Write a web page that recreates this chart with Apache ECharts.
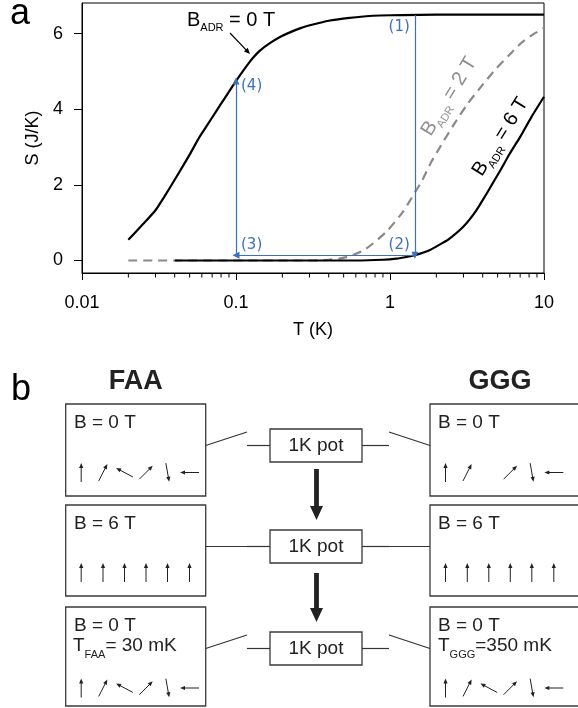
<!DOCTYPE html>
<html><head><meta charset="utf-8">
<script src="https://cdn.jsdelivr.net/npm/echarts@6/dist/echarts.min.js"></script>
<style>html,body{margin:0;padding:0;background:#fff}#c{width:578px;height:708px}</style>
</head><body><div id="c"></div>
<script>
// ---------------- data ----------------
const yTickValues = [0, 2, 4, 6];
const minorTickValues = [0.02,0.03,0.04,0.05,0.06,0.07,0.08,0.09,0.2,0.3,0.4,0.5,0.6,0.7,0.8,0.9,2,3,4,5,6,7,8,9];
// entropy curves: [T (K), S (J/K)]
const curveB0 = [[0.02,0.55],[0.025,0.97],[0.03,1.33],[0.035,1.75],[0.041,2.21],[0.05,2.8],[0.058,3.27],[0.066,3.62],[0.075,3.97],[0.085,4.31],[0.096,4.64],[0.11,4.99],[0.12,5.2],[0.129,5.36],[0.143,5.55],[0.165,5.74],[0.193,5.91],[0.22,6.02],[0.26,6.14],[0.316,6.24],[0.4,6.34],[0.526,6.41],[0.7,6.46],[0.86,6.48],[1.2,6.49],[2,6.5],[5,6.5],[10,6.5]];
const curveB2 = [[0.02,0],[0.3,0],[0.4,0.02],[0.47,0.05],[0.55,0.12],[0.668,0.26],[0.776,0.45],[0.957,0.78],[1.21,1.28],[1.45,1.8],[1.6,2.08],[1.85,2.6],[2.15,3.05],[2.6,3.6],[3.2,4.15],[4.0,4.65],[4.9,5.08],[6.0,5.45],[7.1,5.75],[8.5,5.98],[10,6.15]];
const curveB6 = [[0.04,0],[0.6,0],[0.9,0.02],[1.1,0.05],[1.3,0.1],[1.45,0.14],[1.82,0.28],[2.1,0.42],[2.4,0.56],[3.0,0.9],[3.6,1.3],[4.2,1.74],[4.67,2.06],[5.2,2.38],[6.0,2.83],[7.0,3.27],[8.3,3.8],[10,4.33]];
// ADR cycle legs [from, to] in [T, S]
const cycleLegs = [[[1.45,6.49],[1.45,0.14]], [[1.45,0.14],[0.1,0.14]], [[0.1,0.14],[0.1,4.75]]];
const cycleLabels = ['(1)','(2)','(3)','(4)'];
// diagram
const stageFields = ['B = 0 T', 'B = 6 T', 'B = 0 T'];
const switchClosed = [false, true, false];
const finalTemps = {FAA: '= 30 mK', GGG: '=350 mK'};
const faaSpins = [[90, 63, 152, 45, -80, 180], [90,90,90,90,90,90], [90, 63, 152, 45, -80, 180]];
const gggSpins = [[90, 63, null, 45, -80, 180], [90,90,90,90,90,90], [90, 63, 152, 45, -80, 180]];

// ---------------- chart ----------------
const FONT = '"Liberation Sans", Arial, sans-serif';
const BLUE = '#3b70bf';
const yMin = -0.33, yMax = 6.81;
const chart = echarts.init(document.getElementById('c'), null, {renderer:'canvas', width:578, height:708});

const option = {
  animation: false,
  grid: {left:82, top:3, width:462, height:270, show:true, borderColor:'#000', borderWidth:1, backgroundColor:'transparent'},
  xAxis: {
    type:'log', logBase:10, min:0.01, max:10,
    name:'T (K)', nameLocation:'middle', nameGap:48,
    nameTextStyle:{fontFamily:FONT, fontSize:18, color:'#000'},
    axisLine:{show:true, onZero:false, lineStyle:{color:'#000', width:1}},
    axisTick:{show:true, inside:false, length:7, lineStyle:{color:'#000', width:1}},
    axisLabel:{fontFamily:FONT, fontSize:18, color:'#000', margin:21, formatter:v=>String(+(+v).toPrecision(2))},
    splitLine:{show:false}, minorTick:{show:false}
  },
  yAxis: {
    type:'value', min:yMin, max:yMax,
    name:'S (J/K)', nameLocation:'middle', nameGap:38, nameRotate:90,
    nameTextStyle:{fontFamily:FONT, fontSize:18, color:'#000'},
    axisLine:{show:true, lineStyle:{color:'#000', width:1}},
    axisTick:{show:true, inside:false, length:8, customValues:yTickValues, lineStyle:{color:'#000', width:1}},
    axisLabel:{fontFamily:FONT, fontSize:18, color:'#000', margin:19, customValues:yTickValues},
    splitLine:{show:false}
  },
  series: [
    {type:'custom', coordinateSystem:'cartesian2d', clip:false, silent:true, z:5,
     data: minorTickValues.map(v=>[v, yMin]), encode:{x:0, y:1},
     renderItem:(params, api)=>{
       const p = api.coord([api.value(0), api.value(1)]);
       return {type:'line', shape:{x1:p[0], y1:p[1], x2:p[0], y2:p[1]+4.5}, style:{stroke:'#000', lineWidth:1}};
     }},
    {name:'B2', type:'line', data:curveB2, showSymbol:false, smooth:0.2, z:2, silent:true,
     lineStyle:{color:'#8a8a8a', width:2.2, type:[9,6], join:'round'}},
    {name:'B6', type:'line', data:curveB6, showSymbol:false, smooth:0.2, z:3, silent:true,
     lineStyle:{color:'#000', width:2.2, join:'round'}},
    {name:'B0', type:'line', data:curveB0, showSymbol:false, smooth:0.2, z:3, silent:true,
     lineStyle:{color:'#000', width:2.2, join:'round'},
     markLine:{silent:true, symbol:['none','triangle'], symbolSize:7, animation:false,
       label:{show:false}, lineStyle:{color:BLUE, width:1.2, type:'solid'},
       emphasis:{disabled:true},
       data: cycleLegs.map(l=>[{coord:l[0]},{coord:l[1]}])}}
  ]
};
chart.setOption(option);

// ---------------- graphics ----------------
const mctx = document.createElement('canvas').getContext('2d');
function tw(t, s, bold){ mctx.font = (bold?'bold ':'') + s + 'px "Liberation Sans"'; return mctx.measureText(t).width; }
function segText(x, y, segs, color, anchor, rotDeg){
  const total = segs.reduce((a,s)=>a+tw(s.t,s.s),0);
  let cx = anchor==='center' ? -total/2 : 0;
  const children = [];
  segs.forEach(sg=>{
    children.push({type:'text', x:cx, y:sg.dy||0, silent:true,
      style:{text:sg.t, fill:color, font:sg.s+'px '+FONT, align:'left', verticalAlign:'middle', textAlign:'left', textVerticalAlign:'middle'}});
    cx += tw(sg.t, sg.s);
  });
  return {type:'group', x:x, y:y, rotation:(rotDeg||0)*Math.PI/180, children:children};
}
function txt(x, y, t, size, opts){
  opts = opts || {};
  return {type:'text', x:x, y:y, silent:true, style:{text:t, fill:opts.color||'#222',
    font:(opts.bold?'bold ':'')+size+'px '+(opts.family||FONT),
    align:opts.align||'left', verticalAlign:'middle', textAlign:opts.align||'left', textVerticalAlign:'middle'}};
}
function line(x1,y1,x2,y2,color,w){ return {type:'line', silent:true, shape:{x1,y1,x2,y2}, style:{stroke:color||'#333', lineWidth:w||1}}; }
function rect(x,y,w,h){ return {type:'rect', silent:true, shape:{x,y,width:w,height:h}, style:{fill:'#fff', stroke:'#3a3a3a', lineWidth:1.3}}; }
function arrowHead(hx, hy, ux, uy, hl, hw, color){
  const bx = hx-ux*hl, by = hy-uy*hl, px = -uy, py = ux;
  return {type:'polygon', silent:true, shape:{points:[[hx,hy],[bx+px*hw,by+py*hw],[bx-px*hw,by-py*hw]]}, style:{fill:color}};
}
function spin(cx, cy, angDeg, len){
  const a = angDeg*Math.PI/180, ux = Math.cos(a), uy = -Math.sin(a);
  const hx = cx+ux*len/2, hy = cy+uy*len/2, tx = cx-ux*len/2, ty = cy-uy*len/2;
  const hl = 5;
  return [line(tx,ty,hx-ux*hl*0.7,hy-uy*hl*0.7,'#222',1), arrowHead(hx,hy,ux,uy,hl,2.1,'#222')];
}

const g = [];
g.push(txt(10, 14.5, 'a', 36, {color:'#000'}));
g.push(txt(11, 390.5, 'b', 36, {color:'#000'}));

const px = c => chart.convertToPixel({gridIndex:0}, c);
const p1 = px(cycleLegs[0][0]), p2 = px(cycleLegs[0][1]), p3 = px(cycleLegs[1][1]), p4 = px(cycleLegs[2][1]);
g.push(txt(p1[0]-5, p1[1]+12, cycleLabels[0], 15, {color:BLUE, align:'right', family:'"DejaVu Sans"'}));
g.push(txt(p2[0]-5, p2[1]-10.5, cycleLabels[1], 15, {color:BLUE, align:'right', family:'"DejaVu Sans"'}));
g.push(txt(p3[0]+5, p3[1]-10.5, cycleLabels[2], 15, {color:BLUE, align:'left', family:'"DejaVu Sans"'}));
g.push(txt(p4[0]+5, p4[1]+5, cycleLabels[3], 15, {color:BLUE, align:'left', family:'"DejaVu Sans"'}));

g.push(segText(187, 20, [{t:'B',s:20},{t:'ADR',s:11,dy:8},{t:' = 0 T',s:20}], '#000', 'left', 0));
{ const x1=230,y1=33,x2=250,y2=54; const L=Math.hypot(x2-x1,y2-y1), ux=(x2-x1)/L, uy=(y2-y1)/L;
  g.push(line(x1,y1,x2-ux*4,y2-uy*4,'#000',1.2)); g.push(arrowHead(x2,y2,ux,uy,6,2.6,'#000')); }
g.push(segText(449, 96.5, [{t:'B',s:20},{t:'ADR',s:11,dy:8},{t:' = 2 T',s:20}], '#8f8f8f', 'center', 58.5));
g.push(segText(500.5, 137, [{t:'B',s:20},{t:'ADR',s:11,dy:8},{t:' = 6 T',s:20}], '#000', 'center', 58));

g.push(txt(135.7, 382, 'FAA', 27, {bold:true, align:'center'}));
g.push(txt(500, 382, 'GGG', 27, {bold:true, align:'center'}));
const rows = [{top:404, h:92, spinY:472.5}, {top:505, h:91, spinY:572.5}, {top:607, h:99, spinY:688}];
const faaL = 65.7, faaW = 140, gggL = 430, gggW = 152;
const potL = 270, potW = 92, potH = 33;
const slotOff = [15.5, 37.3, 58.8, 80.3, 101.8, 123.8];
rows.forEach((r, i)=>{
  g.push(rect(faaL, r.top, faaW, r.h));
  g.push(rect(gggL, r.top, gggW, r.h));
  const cy = r.top + 41.5;
  g.push(rect(potL, cy-potH/2, potW, potH));
  g.push(txt(potL+potW/2, cy, '1K pot', 19, {align:'center'}));
  const faaR = faaL+faaW;
  g.push(line(faaR, cy, 247, switchClosed[i] ? cy : cy-13.5, '#333', 1.2));
  g.push(line(247, cy, potL, cy, '#333', 1.2));
  g.push(line(potL+potW, cy, 389, cy, '#333', 1.2));
  g.push(line(389, switchClosed[i] ? cy : cy-13.5, gggL, cy, '#333', 1.2));
  g.push(txt(faaL+8.3, r.top+18.5, stageFields[i], 19));
  g.push(txt(gggL+8, r.top+18.5, stageFields[i], 19));
  if (i === rows.length-1) {
    g.push(segText(faaL+7.3, r.top+39, [{t:'T',s:19},{t:'FAA',s:11,dy:9},{t:finalTemps.FAA,s:19}], '#222', 'left', 0));
    g.push(segText(gggL+8, r.top+39, [{t:'T',s:19},{t:'GGG',s:11,dy:9},{t:finalTemps.GGG,s:19}], '#222', 'left', 0));
  }
  faaSpins[i].forEach((a, k)=>{ if (a !== null) spin(faaL+slotOff[k], r.spinY, a, 19).forEach(e=>g.push(e)); });
  gggSpins[i].forEach((a, k)=>{ if (a !== null) spin(gggL+slotOff[k], r.spinY, a, 19).forEach(e=>g.push(e)); });
});
function bigArrow(x, y1, y2){
  const sw = 2.4, hw = 6.5, hl = 14;
  return {type:'polygon', silent:true, shape:{points:[[x-sw,y1],[x+sw,y1],[x+sw,y2-hl],[x+hw,y2-hl],[x,y2],[x-hw,y2-hl],[x-sw,y2-hl]]}, style:{fill:'#222'}};
}
g.push(bigArrow(316.5, 469, 520));
g.push(bigArrow(316.5, 573, 622));

chart.setOption({graphic:{elements:g}});
</script>
</body></html>
